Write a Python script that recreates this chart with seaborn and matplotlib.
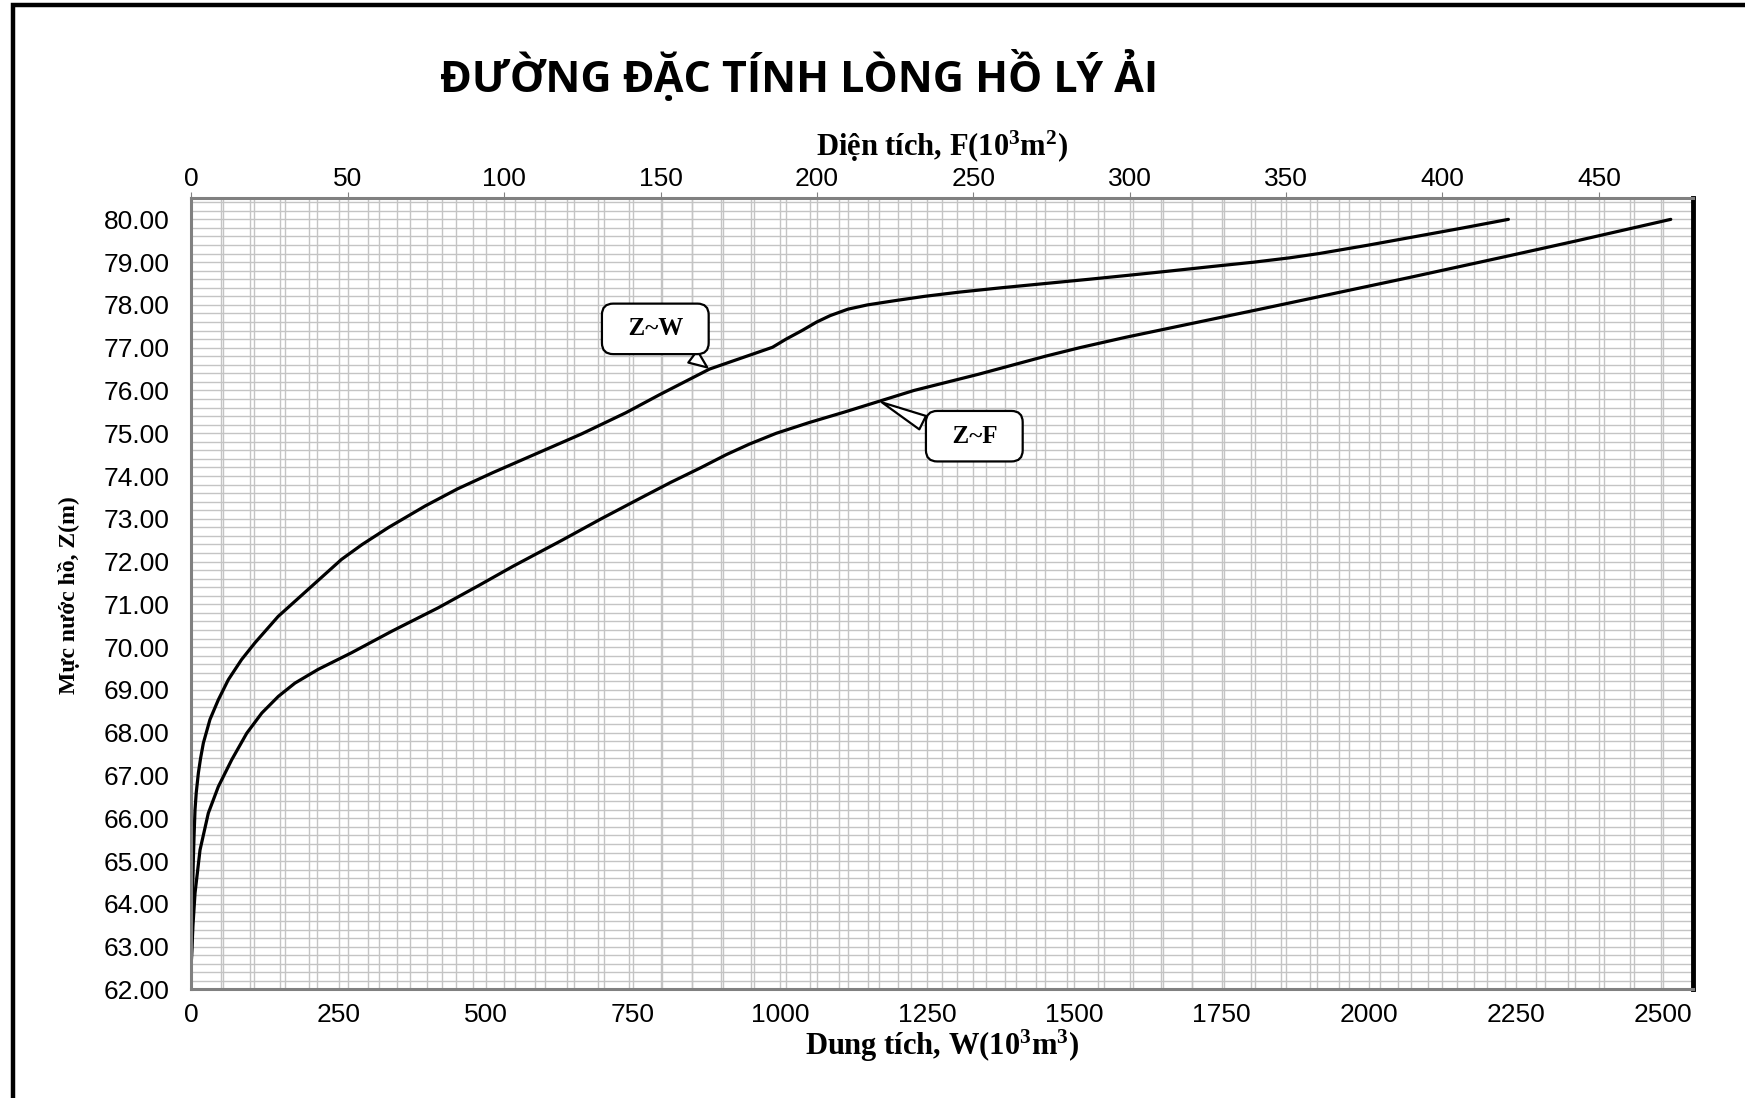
import matplotlib
matplotlib.use('Agg')
import matplotlib.pyplot as plt
import seaborn as sns
from matplotlib.ticker import MultipleLocator, FormatStrFormatter
from matplotlib.patches import Rectangle

# Z~W curve: water level (m) vs storage volume (10^3 m3)
z_w_levels = [62.7, 63.5, 64.3, 65.0, 65.6, 66.2, 66.6, 67.06, 67.4, 67.76,
              68.31, 68.77, 69.24, 69.71, 70.1, 70.72, 71.35, 72.05, 72.4, 72.8,
              73.3, 73.7, 74.08, 74.5, 74.98, 75.48, 75.9, 76.5, 77.01,
              77.2, 77.4, 77.6, 77.75, 77.9, 78.0, 78.1, 78.2, 78.3, 78.4,
              78.5, 78.6, 78.7, 78.8, 78.9, 79.0, 79.1, 79.2, 79.4, 79.6, 79.8, 80.0]
w_volumes = [0, 1.0, 2.0, 3.2, 4.5, 6.1, 8.2, 11.8, 15.5, 20.3,
             31.5, 45.7, 62.7, 85.2, 107.8, 147.4, 198.3, 254.8, 290, 335,
             397, 452, 512, 582, 662, 738, 795, 880, 987,
             1010, 1037, 1062, 1085, 1115, 1148, 1195, 1245, 1305, 1375,
             1450, 1525, 1597, 1667, 1735, 1805, 1865, 1915, 2000, 2080, 2160, 2237]

# Z~F curve: water level (m) vs surface area (10^3 m2)
z_f_levels = [62.7, 63.5, 64.25, 65.26, 66.12, 66.74, 67.37, 67.99, 68.46, 68.85,
              69.16, 69.48, 69.87, 70.37, 70.92, 71.43, 71.89, 72.5, 73.0, 73.5,
              73.85, 74.2, 74.5, 74.75, 75.0, 75.25, 75.5, 75.75, 76.0, 76.38,
              76.8, 77.0, 77.24, 77.5, 77.89, 78.06, 78.34, 78.65, 79.0, 79.16,
              79.5, 79.65, 80.0]
f_areas = [0, 0.5, 1.15, 2.75, 5.4, 8.6, 12.9, 17.7, 22.5, 27.8,
           33.1, 40.5, 51.2, 64.0, 78.9, 91.6, 102.8, 118.5, 131, 144,
           153.2, 163, 171, 178.5, 187, 197.5, 209, 220, 231, 251.7,
           273, 284, 298.5, 315.5, 341, 352, 370, 390, 412, 422,
           443, 452, 473]

w_ticks = [0, 250, 500, 750, 1000, 1250, 1500, 1750, 2000, 2250, 2500]
f_ticks = [0, 50, 100, 150, 200, 250, 300, 350, 400, 450]
z_ticks = [62, 63, 64, 65, 66, 67, 68, 69, 70, 71, 72, 73, 74, 75, 76, 77, 78, 79, 80]

TITLE = 'ĐƯỜNG ĐẶC TÍNH LÒNG HỒ LÝ ẢI'
GRID = '#c4c4c4'
SPINE = '#808080'
SERIF = 'Liberation Serif'


# Set up figure, the three stacked axes (W grid, F grid + Z~F, Z~W on top)
def make_axes():
    sns.set_style('white')
    plt.rcParams['font.family'] = ['Liberation Sans', 'DejaVu Sans']
    plt.rcParams.update({
        'text.color': 'black', 'axes.labelcolor': 'black',
        'xtick.color': 'black', 'ytick.color': 'black',
        'mathtext.fontset': 'custom',
        'mathtext.rm': 'Liberation Serif:bold',
        'mathtext.it': 'Liberation Serif:bold',
        'mathtext.bf': 'Liberation Serif:bold',
    })
    fig = plt.figure(figsize=(17.45, 10.98), dpi=100)
    ax = fig.add_axes([0.1097, 0.0989, 0.8603, 0.7208])
    ax_f = ax.twiny()
    ax_top = ax.twiny()
    return fig, ax, ax_f, ax_top


# Grid lines and ticks for bottom (W) and left (Z) axes
def style_bottom_axis(ax):
    ax.set_xlim(0, 2550)
    ax.set_ylim(62, 80.5)
    ax.set_xticks(w_ticks)
    ax.set_yticks(z_ticks)
    ax.xaxis.set_minor_locator(MultipleLocator(50))
    ax.yaxis.set_minor_locator(MultipleLocator(0.2))
    ax.yaxis.set_major_formatter(FormatStrFormatter('%.2f'))
    ax.grid(True, which='both', color=GRID, lw=1.0)
    ax.tick_params(axis='both', which='both', length=0, labelsize=19)
    ax.tick_params(axis='x', pad=10)
    ax.tick_params(axis='y', pad=16)
    for spine in ax.spines.values():
        spine.set_visible(False)

    ax.set_xlabel('Dung tích, W(10$^{3}$m$^{3}$)', fontsize=22, fontweight='bold', family=SERIF)
    ax.xaxis.set_label_coords(0.5, -0.0715)
    ax.xaxis.label.set_va('center')
    ax.set_ylabel('Mực nước hồ, Z(m)', fontsize=17, fontweight='bold', family=SERIF)
    ax.yaxis.set_label_coords(-0.0815, 0.498)
    ax.yaxis.label.set_va('center')


# Grid lines and ticks for the top (F) axis
def style_top_axis(ax_f):
    ax_f.set_xlim(0, 480)
    ax_f.set_xticks(f_ticks)
    ax_f.xaxis.set_minor_locator(MultipleLocator(10))
    ax_f.grid(True, axis='x', which='both', color=GRID, lw=1.0)
    ax_f.tick_params(axis='x', which='major', length=4, color=SPINE, pad=1, labelsize=19)
    ax_f.tick_params(axis='x', which='minor', length=0)
    for spine in ax_f.spines.values():
        spine.set_visible(False)

    ax_f.set_xlabel('Diện tích, F(10$^{3}$m$^{2}$)', fontsize=22, fontweight='bold', family=SERIF)
    ax_f.xaxis.set_label_coords(0.5, 1.0657)
    ax_f.xaxis.label.set_va('center')


# Draw both characteristic curves with callout labels
def plot_curves(ax_f, ax_top):
    sns.lineplot(x=f_areas, y=z_f_levels, sort=False, estimator=None,
                 color='black', lw=2.3, ax=ax_f)

    ax_top.set_xlim(0, 2550)
    ax_top.set_xticks([])
    sns.lineplot(x=w_volumes, y=z_w_levels, sort=False, estimator=None,
                 color='black', lw=2.3, ax=ax_top)

    for spine in ax_top.spines.values():
        spine.set_color(SPINE)
        spine.set_linewidth(2.2)
    ax_top.spines['right'].set_color('black')
    ax_top.spines['right'].set_linewidth(3.5)

    box = dict(boxstyle='round,pad=0.55,rounding_size=0.45', fc='white', ec='black', lw=1.6)
    text_kw = dict(ha='center', va='center', fontsize=18, fontweight='bold', family=SERIF)

    iw = z_w_levels.index(76.5)
    ax_top.annotate('  Z~W  ', xy=(w_volumes[iw], z_w_levels[iw]), xycoords='data',
                    xytext=(0.309, 0.8346), textcoords='axes fraction', bbox=box,
                    arrowprops=dict(arrowstyle='wedge,tail_width=0.6', fc='white',
                                    ec='black', lw=1.6, relpos=(0.7, 0.0)),
                    zorder=5, **text_kw)

    jf = z_f_levels.index(75.75)
    ax_f.annotate('  Z~F  ', xy=(f_areas[jf], z_f_levels[jf]), xycoords='data',
                  xytext=(0.5215, 0.699), textcoords='axes fraction', bbox=box,
                  arrowprops=dict(arrowstyle='wedge,tail_width=0.6', fc='white',
                                  ec='black', lw=1.6, relpos=(0.0, 0.72)),
                  zorder=5, **text_kw)


def main():
    fig, ax, ax_f, ax_top = make_axes()
    style_bottom_axis(ax)
    style_top_axis(ax_f)
    plot_curves(ax_f, ax_top)

    fig.text(0.458, 0.931, TITLE, ha='center', va='center', fontsize=31,
             fontweight='bold', family='Open Sans')

    # Outer frame (only left and top edges fall inside the picture)
    fig.patches.append(Rectangle((13 / 1745, -0.05), 1.2, 1.05 - 5 / 1098,
                                 transform=fig.transFigure, fill=False,
                                 ec='black', lw=3.2))

    fig.savefig('out.png', dpi=100)


if __name__ == "__main__":
    main()
